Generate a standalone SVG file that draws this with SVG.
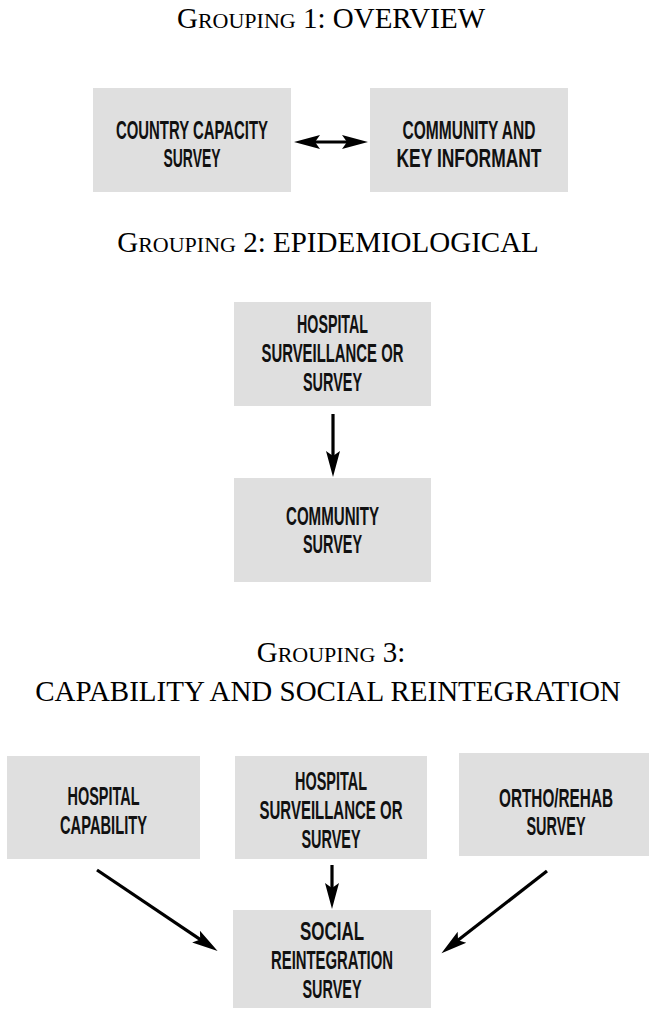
<svg xmlns="http://www.w3.org/2000/svg" width="651" height="1010" viewBox="0 0 651 1010">
<style>
.title{font-family:"Liberation Serif","Times New Roman",serif;font-size:29px;fill:#000;text-anchor:middle}
.sc{font-size:22px}
.box{fill:#dfdfdf}
.lbl{font-family:"Liberation Sans",Arial,sans-serif;font-weight:bold;font-size:26px;fill:#111;text-anchor:middle}
.conn{stroke:#000;stroke-width:3.2;fill:none}
</style>
<defs>
<marker id="ah" markerUnits="userSpaceOnUse" markerWidth="27" markerHeight="16" viewBox="0 0 27 16" refX="12" refY="8" orient="auto-start-reverse">
<path d="M0,1 L26,8 L0,15 L5,8 Z" fill="#000"/>
</marker>
</defs>
<rect width="651" height="1010" fill="#fff"/>
<text class="title" x="331" y="28">G<tspan class="sc">ROUPING</tspan> 1: OVERVIEW</text>
<text class="title" x="328" y="252">G<tspan class="sc">ROUPING</tspan> 2: EPIDEMIOLOGICAL</text>
<text class="title" x="331" y="662">G<tspan class="sc">ROUPING</tspan> 3:</text>
<text class="title" x="328" y="701">CAPABILITY AND SOCIAL REINTEGRATION</text>
<g id="n-country">
<rect class="box" x="93" y="88" width="198" height="104"/>
<text class="lbl" x="192" y="139" textLength="152" lengthAdjust="spacingAndGlyphs">COUNTRY CAPACITY</text>
<text class="lbl" x="192" y="167" textLength="57" lengthAdjust="spacingAndGlyphs">SURVEY</text>
</g>
<g id="n-community-key">
<rect class="box" x="370" y="88" width="198" height="104"/>
<text class="lbl" x="469" y="139" textLength="133" lengthAdjust="spacingAndGlyphs">COMMUNITY AND</text>
<text class="lbl" x="469" y="167" textLength="145" lengthAdjust="spacingAndGlyphs">KEY INFORMANT</text>
</g>
<g id="n-hospital-surv-2">
<rect class="box" x="234" y="302" width="197" height="104"/>
<text class="lbl" x="332.5" y="333" textLength="71" lengthAdjust="spacingAndGlyphs">HOSPITAL</text>
<text class="lbl" x="332.5" y="362" textLength="142" lengthAdjust="spacingAndGlyphs">SURVEILLANCE OR</text>
<text class="lbl" x="332.5" y="391" textLength="59" lengthAdjust="spacingAndGlyphs">SURVEY</text>
</g>
<g id="n-community-survey">
<rect class="box" x="234" y="478" width="197" height="104"/>
<text class="lbl" x="332.5" y="525" textLength="93" lengthAdjust="spacingAndGlyphs">COMMUNITY</text>
<text class="lbl" x="332.5" y="553" textLength="59" lengthAdjust="spacingAndGlyphs">SURVEY</text>
</g>
<g id="n-hospital-capability">
<rect class="box" x="7" y="756" width="193" height="103"/>
<text class="lbl" x="103.5" y="805" textLength="72" lengthAdjust="spacingAndGlyphs">HOSPITAL</text>
<text class="lbl" x="103.5" y="834" textLength="87" lengthAdjust="spacingAndGlyphs">CAPABILITY</text>
</g>
<g id="n-hospital-surv-3">
<rect class="box" x="235" y="756" width="192" height="103"/>
<text class="lbl" x="331" y="790" textLength="72" lengthAdjust="spacingAndGlyphs">HOSPITAL</text>
<text class="lbl" x="331" y="819" textLength="143" lengthAdjust="spacingAndGlyphs">SURVEILLANCE OR</text>
<text class="lbl" x="331" y="848" textLength="59" lengthAdjust="spacingAndGlyphs">SURVEY</text>
</g>
<g id="n-ortho">
<rect class="box" x="459" y="753" width="190" height="103"/>
<text class="lbl" x="556" y="807" textLength="114" lengthAdjust="spacingAndGlyphs">ORTHO/REHAB</text>
<text class="lbl" x="556" y="835" textLength="59" lengthAdjust="spacingAndGlyphs">SURVEY</text>
</g>
<g id="n-social">
<rect class="box" x="233" y="910" width="198" height="98"/>
<text class="lbl" x="332" y="940" textLength="64" lengthAdjust="spacingAndGlyphs">SOCIAL</text>
<text class="lbl" x="332" y="969" textLength="122" lengthAdjust="spacingAndGlyphs">REINTEGRATION</text>
<text class="lbl" x="332" y="998" textLength="59" lengthAdjust="spacingAndGlyphs">SURVEY</text>
</g>
<g id="connectors">
<line class="conn" x1="308" y1="142" x2="354" y2="142" marker-start="url(#ah)" marker-end="url(#ah)"/>
<line class="conn" x1="333" y1="414" x2="333" y2="463" marker-end="url(#ah)"/>
<line class="conn" x1="332" y1="865" x2="332" y2="895" marker-end="url(#ah)"/>
<line class="conn" x1="97" y1="870" x2="206" y2="943.3" marker-end="url(#ah)"/>
<line class="conn" x1="547" y1="871" x2="452.5" y2="944.6" marker-end="url(#ah)"/>
</g>
</svg>
